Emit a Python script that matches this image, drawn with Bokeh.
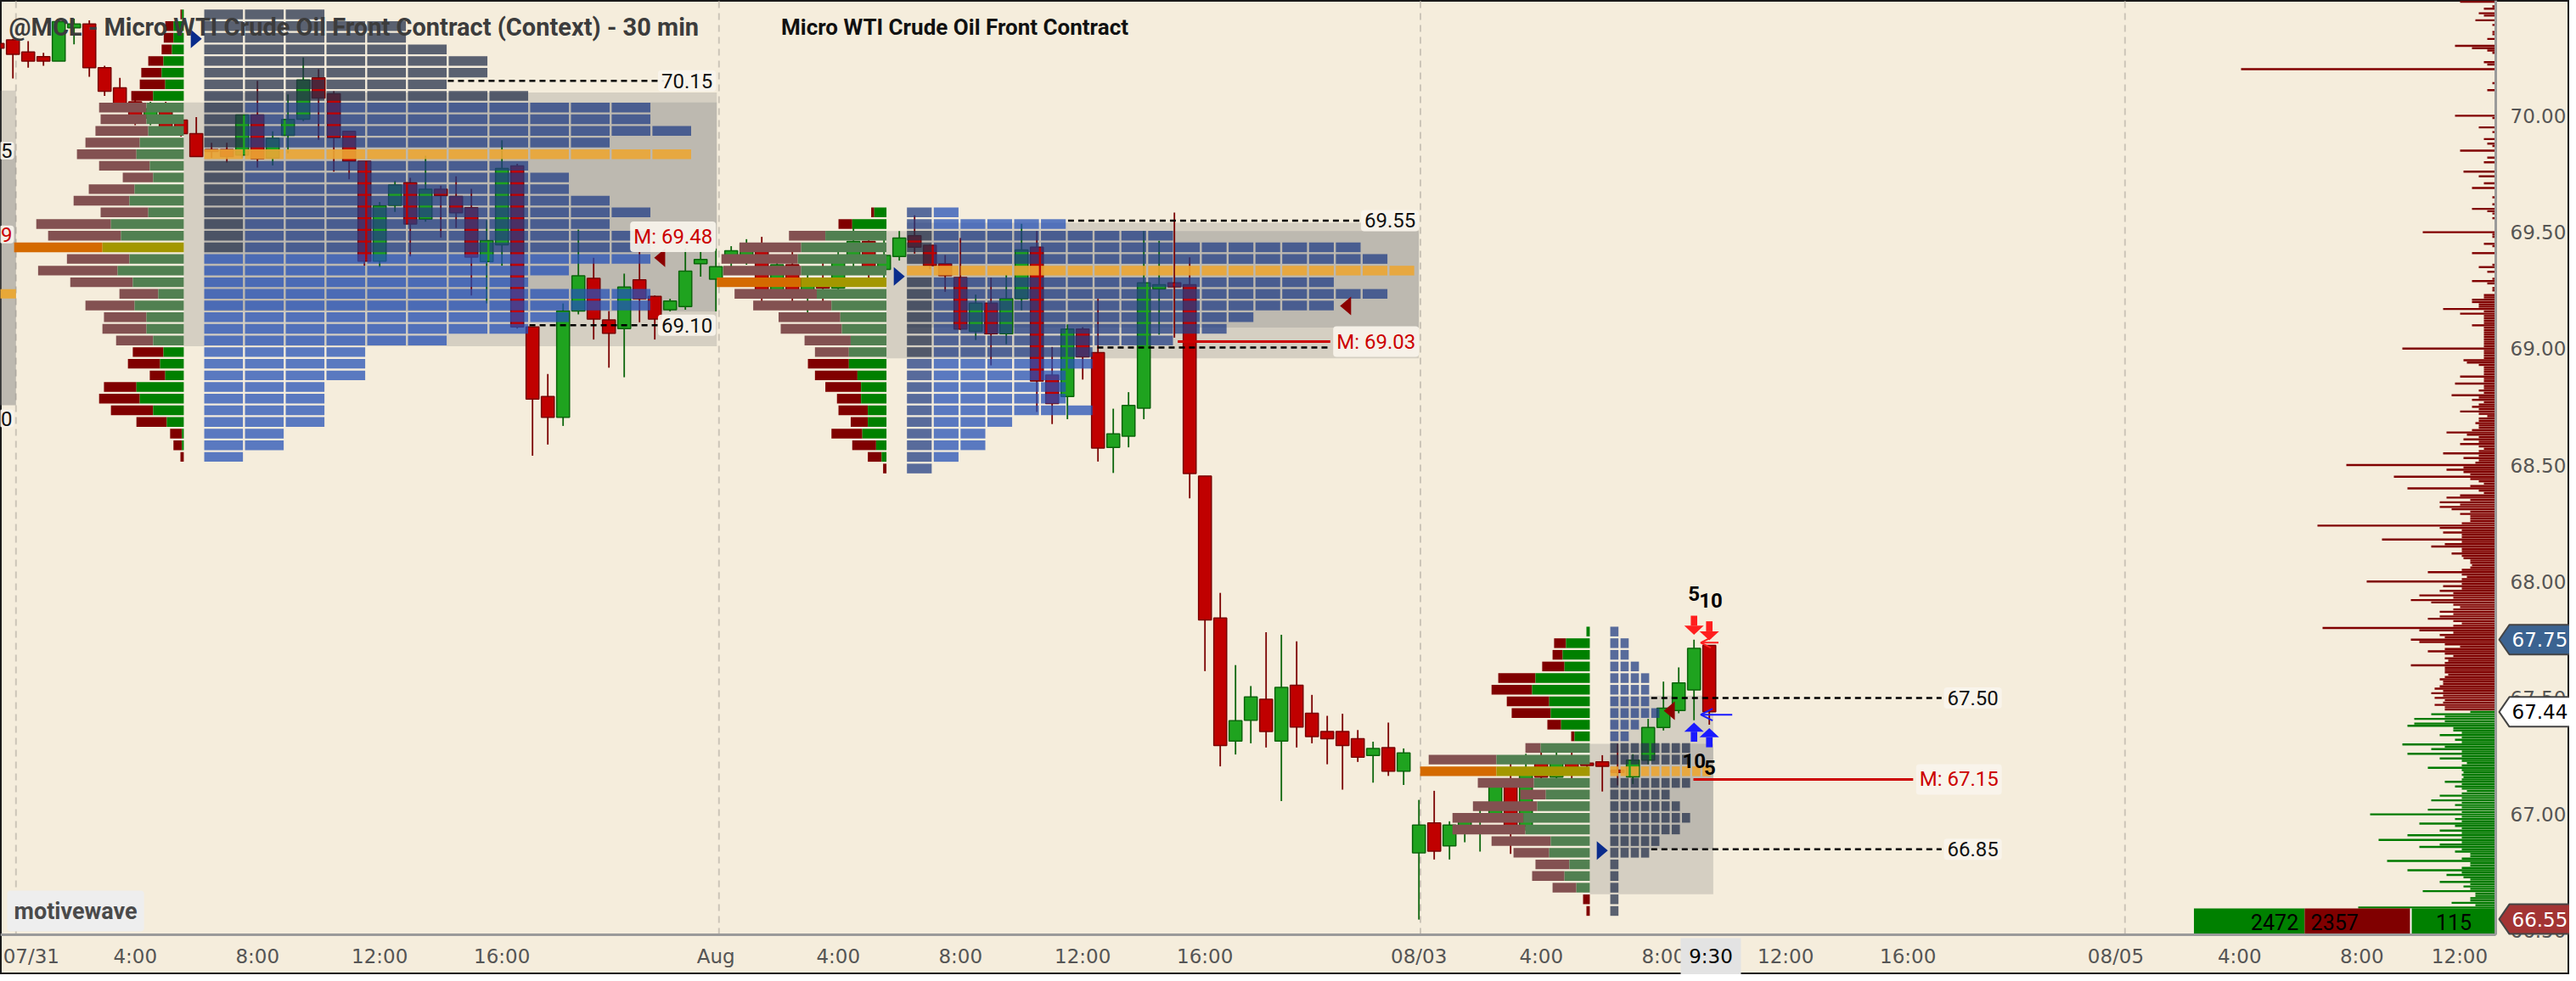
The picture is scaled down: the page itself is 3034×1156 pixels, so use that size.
import numpy as np
from bokeh.plotting import figure
from bokeh.models import ColumnDataSource, Label, Arrow, OpenHead, Range1d
from bokeh.core.properties import value
from bokeh.embed import file_html
from bokeh.resources import INLINE

BG = "#F5EDDC"

# ---------------- axis data (compressed trading hours since 07/31 00:00) ----------------
tick_hours = [0.6, 4, 8, 12, 16, 23, 27, 31, 35, 39, 46, 50, 54, 58, 62, 68.8, 72.85, 76.85, 80.05]
tick_labels = ["07/31", "4:00", "8:00", "12:00", "16:00", "Aug", "4:00", "8:00", "12:00", "16:00",
               "08/03", "4:00", "8:00", "12:00", "16:00", "08/05", "4:00", "8:00", "12:00"]
session_lines = [0.1, 23.1, 46.05, 69.1]
price_ticks = [66.5, 67.0, 67.5, 68.0, 68.5, 69.0, 69.5, 70.0]
current_bar_hour = 55.55
current_bar_label = "9:30"

# ---------------- 30 min candles (bar index k -> hour 0.5*k) ----------------
bar_index = list(range(-1, 112))
opens = [
    70.31, 70.326, 70.274, 70.254, 70.235, 70.378, 70.394, 70.206, 70.12, 70.06,
    69.99, 70.05, 69.981, 69.923, 69.855, 69.855, 69.831, 70.003, 69.818, 69.916,
    69.985, 70.163, 70.094, 69.933, 69.805, 69.376, 69.615, 69.713, 69.556, 69.684,
    69.653, 69.605, 69.374, 69.446, 69.785, 69.093, 68.794, 68.705, 69.161, 69.302,
    69.123, 69.086, 69.295, 69.224, 69.167, 69.181, 69.365, 69.298, 69.38, 69.40,
    69.45, 69.25, 69.36, 69.22, 69.30, 69.26, 69.38, 69.46, 69.34, 69.396,
    69.485, 69.444, 69.365, 69.305, 69.074, 69.195, 69.064, 69.214, 69.436, 68.886,
    68.794, 69.084, 68.983, 68.576, 68.624, 68.744, 69.256, 69.283, 69.274, 68.453,
    67.843, 67.315, 67.404, 67.494, 67.315, 67.554, 67.434, 67.356, 67.356, 67.325,
    67.253, 67.286, 67.185, 66.835, 66.963, 66.865, 66.95, 66.98, 67.0, 67.15,
    66.95, 67.22, 67.16, 67.24, 67.22, 67.225, 67.19, 67.161, 67.233, 67.373,
    67.446, 67.534, 67.726]
highs = [
    70.33, 70.33, 70.32, 70.27, 70.417, 70.417, 70.41, 70.215, 70.163, 70.08,
    70.06, 70.06, 69.994, 69.994, 69.884, 69.884, 70.003, 70.15, 69.933, 70.092,
    70.25, 70.2, 70.105, 69.936, 69.805, 69.63, 69.72, 69.734, 69.828, 69.70,
    69.74, 69.686, 69.552, 69.895, 69.794, 69.093, 68.891, 69.194, 69.511, 69.39,
    69.161, 69.322, 69.444, 69.228, 69.214, 69.43, 69.417, 69.43, 69.44, 69.47,
    69.48, 69.40, 69.42, 69.35, 69.38, 69.42, 69.52, 69.50, 69.49, 69.505,
    69.572, 69.448, 69.402, 69.475, 69.232, 69.305, 69.317, 69.536, 69.505, 69.007,
    69.104, 69.092, 69.214, 68.742, 68.813, 69.505, 69.463, 69.584, 69.392, 68.453,
    67.951, 67.641, 67.551, 67.782, 67.771, 67.743, 67.513, 67.423, 67.432, 67.362,
    67.312, 67.394, 67.283, 67.062, 67.101, 66.97, 67.0, 67.03, 67.14, 67.23,
    67.26, 67.27, 67.27, 67.28, 67.23, 67.254, 67.303, 67.258, 67.41, 67.57,
    67.631, 67.75, 67.726]
lows = [
    70.27, 70.16, 70.206, 70.215, 70.235, 70.307, 70.167, 70.085, 70.02, 69.96,
    69.96, 69.92, 69.91, 69.825, 69.818, 69.799, 69.818, 69.777, 69.786, 69.838,
    69.977, 69.897, 69.76, 69.727, 69.356, 69.35, 69.587, 69.396, 69.545, 69.477,
    69.518, 69.228, 69.194, 69.356, 69.086, 68.54, 68.588, 68.668, 69.147, 69.039,
    68.918, 68.877, 69.113, 69.039, 69.16, 69.167, 69.309, 69.16, 69.35, 69.36,
    69.20, 69.22, 69.18, 69.15, 69.20, 69.24, 69.34, 69.30, 69.30, 69.378,
    69.408, 69.341, 69.244, 69.08, 69.037, 68.928, 69.019, 69.165, 68.728, 68.676,
    68.697, 68.867, 68.515, 68.466, 68.576, 68.697, 69.06, 69.047, 68.357, 67.615,
    67.206, 67.257, 67.305, 67.287, 67.057, 67.287, 67.305, 67.215, 67.106, 67.225,
    67.136, 67.165, 67.126, 66.548, 66.806, 66.806, 66.88, 66.84, 66.98, 66.83,
    66.93, 67.12, 67.14, 67.15, 67.2, 67.098, 67.124, 67.13, 67.215, 67.36,
    67.434, 67.404, 67.385]
closes = [
    70.29, 70.264, 70.235, 70.235, 70.404, 70.394, 70.206, 70.105, 70.046, 69.99,
    70.03, 69.95, 69.923, 69.825, 69.847, 69.825, 70.003, 69.816, 69.903, 69.984,
    70.154, 70.076, 69.906, 69.805, 69.376, 69.613, 69.703, 69.535, 69.684, 69.657,
    69.583, 69.393, 69.464, 69.774, 69.093, 68.783, 68.705, 69.161, 69.313, 69.127,
    69.066, 69.264, 69.214, 69.127, 69.204, 69.333, 69.383, 69.352, 69.42, 69.45,
    69.25, 69.36, 69.22, 69.30, 69.26, 69.38, 69.46, 69.34, 69.40, 69.475,
    69.436, 69.356, 69.314, 69.084, 69.195, 69.064, 69.214, 69.424, 68.861, 68.764,
    69.084, 68.965, 68.573, 68.634, 68.756, 69.283, 69.274, 69.265, 68.464, 67.835,
    67.296, 67.402, 67.504, 67.356, 67.545, 67.375, 67.334, 67.325, 67.296, 67.245,
    67.283, 67.185, 67.264, 66.954, 66.842, 66.954, 66.98, 67.0, 67.12, 66.95,
    67.2, 67.16, 67.22, 67.17, 67.21, 67.206, 67.18, 67.233, 67.373, 67.456,
    67.564, 67.713, 67.44]

# ---------------- daily volume profiles & TPO (rows of 5 ticks) ----------------
d1_top_row = 70.435
d1_total = [11, 61, 66, 73, 117, 140, 145, 173, 279, 274, 291, 324, 352, 279, 201, 313, 363, 274, 486, 447,
            559, 385, 480, 374, 212, 324, 263, 268, 223, 168, 184, 112, 263, 279, 240, 156, 45, 34, 11]
d1_buy = [6, 34, 34, 39, 67, 73, 61, 101, 123, 123, 117, 145, 156, 112, 101, 162, 179, 117, 240, 207,
          268, 179, 218, 168, 84, 162, 123, 123, 101, 67, 78, 61, 156, 145, 101, 56, 6, 6, 0]
d1_tpo = [3, 5, 5, 6, 7, 7, 6, 8, 11, 11, 12, 10, 12, 8, 9, 9, 10, 11, 10, 11,
          11, 11, 9, 8, 11, 11, 9, 8, 6, 4, 4, 4, 3, 3, 3, 3, 2, 2, 1]
d2_top_row = 69.585
d2_total = [50, 157, 319, 481, 540, 534, 555, 497, 436, 353, 346, 268, 234, 257, 234, 200, 162, 157, 117, 180,
            112, 61, 11]
d2_buy = [40, 112, 200, 279, 290, 279, 279, 228, 180, 151, 146, 117, 123, 123, 95, 83, 83, 61, 61, 79,
          34, 16, 0]
d2_tpo = [2, 6, 10, 17, 18, 19, 16, 18, 16, 13, 12, 10, 7, 7, 6, 6, 6, 7, 4, 3, 3, 2, 1]
d3_top_row = 67.785
d3_total = [11, 117, 122, 156, 300, 322, 272, 256, 139, 61, 211, 528, 556, 367, 228, 383, 450, 450, 322, 250,
            178, 189, 122, 22, 11]
d3_buy = [11, 78, 89, 83, 178, 189, 133, 128, 94, 50, 161, 306, 306, 183, 144, 172, 217, 211, 128, 133,
          67, 83, 44, 0, 0]
d3_tpo = [1, 2, 2, 3, 4, 4, 4, 5, 3, 2, 8, 8, 10, 8, 6, 7, 8, 7, 5, 4, 1, 1, 1, 1, 1]

day_start = [0.04, 23.03, 46.04]
day_end = [23.03, 46.0, 55.63]
value_area = [(69.01, 70.057), (68.958, 69.505), (66.657, 67.303)]
tpo_value_area = [(69.16, 70.10), (69.09, 69.54), (66.85, 67.51)]
poc_tpo = [69.835, 69.335, 67.185]

# key levels
levels_dashed = [(70.15, 14.23, 21.3), (69.10, 16.9, 21.3), (69.55, 34.52, 44.1), (69.005, 35.48, 43.06),
                 (67.50, 53.6, 63.1), (66.85, 53.6, 63.1)]
level_labels = [("70.15", 70.15, 23.0), ("69.10", 69.10, 23.0), ("69.55", 69.55, 46.0),
                ("67.50", 67.50, 65.07), ("66.85", 66.85, 65.07)]
mid_levels = [(69.48, 23.0, None), (69.03, 46.0, 38.11), (67.15, 65.07, 54.98)]
blue_marks = [(6.0, 70.33), (29.0, 69.31), (52.0, 66.845)]
red_marks = [(21.16, 69.39), (43.6, 69.183), (54.19, 67.445)]

# signals on the last bars
sig_hours = [55.0, 55.5]
sig_red_top = [67.853, 67.829]
sig_blue_bottom = [67.312, 67.288]
sig_top_texts = [("5", 55.0, 67.948), ("10", 55.55, 67.92)]
sig_bot_texts = [("10", 55.0, 67.23), ("5", 55.52, 67.20)]

# previous session remnants visible at the left edge
prev_box = [(68.757, 70.108), (68.757, 69.85)]
prev_poc = 69.235
prev_labels = [("5", 69.85, "#111111"), ("9", 69.49, "#CC0000"), ("0", 68.70, "#111111")]

# ---------------- right side tick histogram (per 0.01) ----------------
hist_red_top = 70.49
hist_red = [42, 0, 4, 14, 0, 20, 14, 0, 24, 0,
            4, 0, 0, 4, 4, 0, 10, 0, 0, 48,
            28, 10, 4, 0, 0, 0, 14, 10, 0, 300,
            0, 0, 0, 0, 0, 4, 0, 0, 10, 0,
            0, 0, 0, 0, 0, 0, 0, 0, 0, 48,
            4, 0, 0, 0, 20, 0, 4, 0, 0, 14,
            0, 10, 4, 0, 42, 0, 0, 10, 0, 14,
            0, 0, 0, 38, 0, 20, 0, 0, 14, 0,
            28, 0, 0, 0, 4, 0, 0, 4, 0, 28,
            10, 4, 0, 4, 0, 0, 0, 0, 0, 86,
            4, 4, 0, 0, 14, 4, 0, 0, 28, 0,
            0, 0, 0, 4, 20, 0, 10, 0, 0, 4,
            28, 10, 0, 4, 4, 0, 14, 14, 28, 28,
            20, 20, 62, 14, 42, 14, 14, 14, 14, 28,
            14, 14, 14, 14, 14, 14, 14, 14, 14, 110,
            14, 14, 14, 14, 38, 34, 20, 14, 14, 14,
            14, 42, 14, 14, 48, 14, 14, 20, 14, 52,
            20, 28, 14, 20, 28, 20, 42, 20, 10, 20,
            20, 24, 20, 20, 28, 58, 34, 20, 38, 20,
            42, 20, 14, 20, 62, 20, 38, 20, 24, 176,
            38, 58, 38, 30, 120, 30, 20, 14, 30, 104,
            20, 14, 42, 58, 30, 66, 42, 66, 52, 30,
            42, 30, 30, 30, 40, 210, 66, 40, 62, 40,
            40, 134, 40, 60, 76, 40, 40, 52, 40, 38,
            30, 30, 28, 30, 40, 80, 40, 34, 40, 152,
            40, 62, 40, 66, 50, 90, 50, 100, 76, 50,
            42, 50, 66, 50, 66, 80, 50, 40, 50, 204,
            90, 50, 66, 60, 100, 90, 60, 42, 60, 80,
            60, 50, 60, 56, 60, 100, 60, 60, 60, 56,
            60, 66, 62, 62, 66, 72, 62, 76, 62, 72,
            60, 62, 72, 60, 60]
hist_green_top = 67.44
hist_green = [30, 76, 60, 96, 60, 96, 104, 50, 50, 40,
              66, 40, 48, 40, 110, 60, 76, 40, 104, 40,
              66, 40, 34, 40, 80, 40, 38, 40, 38, 40,
              60, 40, 48, 40, 34, 40, 66, 40, 76, 40,
              48, 40, 80, 40, 148, 40, 48, 40, 90, 48,
              40, 66, 40, 104, 40, 138, 40, 66, 90, 40,
              48, 30, 30, 40, 128, 30, 30, 40, 104, 40,
              58, 38, 30, 66, 30, 38, 30, 86, 24, 24,
              30, 30, 52, 24, 162, 20, 20, 20, 20]

# session volume box
vol_buy, vol_sell, vol_delta = 2472, 2357, 115
price_tags = [(67.75, "#3B6391", "white"), (67.44, "white", "black"), (66.55, "#A33434", "white")]

# ---------------- figure geometry ----------------
W, H = 3026, 1148
PXH = 36.0      # px per hour
PXP = 274.4     # px per dollar
X0PX = 14.7     # pixel of hour 0
Y70PX = 135.9   # pixel of price 70.00


def hx(px):
    return (px - X0PX) / PXH


def py(px):
    return 70.0 - (px - Y70PX) / PXP


X0, XR = hx(0), hx(W)
YT, YB = py(0), py(H)
AX_X = hx(2939)      # right price axis line
AX_Y = py(1101)      # bottom time axis line

p = figure(frame_width=W, frame_height=H, x_range=Range1d(X0, XR), y_range=Range1d(YB, YT),
           output_backend="svg", toolbar_location=None, x_axis_location=None, y_axis_location=None,
           min_border=0, background_fill_color=BG, border_fill_color=BG,
           outline_line_color="#1A1A1A", outline_line_width=3)
p.grid.visible = False

# day separators
p.segment(x0=session_lines, x1=session_lines, y0=AX_Y, y1=YT, line_color="#CCC5B8", line_width=2,
          line_dash="8 6")

GRAY = "#808080"
for lo, hi in prev_box:
    p.quad(left=X0 - 1, right=0.1, bottom=lo, top=hi, fill_color=GRAY, fill_alpha=0.28, line_color=None)
p.quad(left=X0 - 1, right=0.1, bottom=prev_poc - 0.02, top=prev_poc + 0.02, fill_color="#E8A838",
       line_color=None)

ROW = 0.05
BAR_H = 0.0416
PROFILE_W = 5.55
GAP_TO_TPO = 0.67
tpo_step = [1.333, 0.877, 0.335]
for i in range(3):
    anchor = day_start[i] + PROFILE_W
    lo, hi = value_area[i]
    p.quad(left=anchor, right=day_end[i], bottom=lo, top=hi, fill_color=GRAY, fill_alpha=0.28, line_color=None)
    lo, hi = tpo_value_area[i]
    p.quad(left=anchor + GAP_TO_TPO, right=day_end[i], bottom=lo, top=hi, fill_color=GRAY, fill_alpha=0.28,
           line_color=None)

# candles
hours = [0.5 * k for k in bar_index]
up = [c >= o for o, c in zip(opens, closes)]
csrc = ColumnDataSource(dict(
    x=hours, o=opens, h=highs, l=lows, c=closes,
    top=[max(o, c) for o, c in zip(opens, closes)],
    bottom=[min(o, c) for o, c in zip(opens, closes)],
    fill=["#1FA31F" if u else "#C00000" for u in up],
    line=["#0B650B" if u else "#7A0000" for u in up],
))
p.segment(x0="x", y0="l", x1="x", y1="h", line_color="line", line_width=1.8, source=csrc)
p.vbar(x="x", width=0.42, top="top", bottom="bottom", fill_color="fill", line_color="line",
       line_width=1.5, source=csrc)

# TPO blocks
SLATE, MID, BLUE = "#26314C", "#233F86", "#2651B7"
tpo_style = [
    dict(above=(SLATE, SLATE), va_up=(MID, SLATE), split=69.40, va_low=(BLUE, BLUE), below=(BLUE, BLUE)),
    dict(above=(BLUE, MID), va_up=(MID, SLATE), split=0.0, va_low=(MID, SLATE), below=(BLUE, MID)),
    dict(above=(MID, MID), va_up=(SLATE, SLATE), split=0.0, va_low=(SLATE, SLATE), below=(SLATE, SLATE)),
]
tops = [d1_top_row, d2_top_row, d3_top_row]
totals = [d1_total, d2_total, d3_total]
buys = [d1_buy, d2_buy, d3_buy]
tpos = [d1_tpo, d2_tpo, d3_tpo]

B = dict(l=[], r=[], b=[], t=[], c=[], a=[])
for i in range(3):
    x_start = day_start[i] + PROFILE_W + GAP_TO_TPO
    step = tpo_step[i]
    w = step - 0.067
    st = tpo_style[i]
    lo, hi = value_area[i]
    for r, n in enumerate(tpos[i]):
        price = round(tops[i] - ROW * r, 3)
        is_poc = abs(price - poc_tpo[i]) < 1e-6
        if price > hi:
            cols = st["above"]
        elif price < lo:
            cols = st["below"]
        elif price >= st["split"]:
            cols = st["va_up"]
        else:
            cols = st["va_low"]
        for j in range(n):
            B["l"].append(x_start + j * step)
            B["r"].append(x_start + j * step + w)
            B["b"].append(price - BAR_H / 2)
            B["t"].append(price + BAR_H / 2)
            if is_poc:
                B["c"].append("#EBA634"); B["a"].append(0.9)
            else:
                B["c"].append(cols[1] if j == 0 else cols[0]); B["a"].append(0.75)
p.quad(left="l", right="r", bottom="b", top="t", fill_color="c", fill_alpha="a", line_color=None,
       source=ColumnDataSource(B))

# volume profiles (sell part left, buy part right, right-aligned at anchor)
P = dict(l=[], r=[], b=[], t=[], c=[])
for i in range(3):
    anchor = day_start[i] + PROFILE_W
    tot = np.array(totals[i], float)
    buy = np.array(buys[i], float)
    sc = PROFILE_W / tot.max()
    poc_row = int(np.argmax(tot))
    lo, hi = value_area[i]
    for r in range(len(tot)):
        price = round(tops[i] - ROW * r, 3)
        if r == poc_row:
            cs, cb = "#D46A00", "#A39700"
        elif lo <= price <= hi:
            cs, cb = "#835151", "#518051"
        else:
            cs, cb = "#800000", "#008000"
        xl = anchor - tot[r] * sc
        xm = anchor - buy[r] * sc
        for a_, b_, col in ((xl, xm, cs), (xm, anchor, cb)):
            if b_ - a_ > 1e-6:
                P["l"].append(a_); P["r"].append(b_)
                P["b"].append(price - BAR_H / 2); P["t"].append(price + BAR_H / 2); P["c"].append(col)
p.quad(left="l", right="r", bottom="b", top="t", fill_color="c", line_color=None, source=ColumnDataSource(P))

# dashed key levels
p.segment(x0=[v[1] for v in levels_dashed], x1=[v[2] for v in levels_dashed],
          y0=[v[0] for v in levels_dashed], y1=[v[0] for v in levels_dashed],
          line_color="black", line_width=2.5, line_dash="7 5")
mx0 = [m[2] for m in mid_levels if m[2] is not None]
mx1 = [m[1] - 2.9 for m in mid_levels if m[2] is not None]
my = [m[0] for m in mid_levels if m[2] is not None]
p.segment(x0=mx0, x1=mx1, y0=my, y1=my, line_color="#CC0000", line_width=3)


def add_label(text, x, y, color, align="right", bg="#F8F4EC", size="24px", bold=False, font="Roboto",
              pad=4, border=None, alpha=0.92):
    lab = Label(x=x, y=y, text=text, text_align=align, text_baseline="middle", text_color=color,
                text_font=font, text_font_size=size, text_font_style="bold" if bold else "normal",
                background_fill_color=bg, background_fill_alpha=alpha if bg else 0.0,
                border_line_color=border, padding=pad, border_radius=4)
    p.add_layout(lab)


for txt, y, x in level_labels:
    add_label(txt, x, y, "#111111")
for m, x, _ in mid_levels:
    add_label("M: %.2f" % m, x, m, "#CC0000")
for txt, y, col in prev_labels:
    add_label(txt, hx(16), y, col, pad=2)

# triangles
DX = 6.5 / PXH
DY = 11.0 / PXP
p.patches(xs=[[x - DX, x + DX, x - DX] for x, y in blue_marks],
          ys=[[y + DY, y, y - DY] for x, y in blue_marks], fill_color="#0A2C8C", line_color=None)
p.patches(xs=[[x + DX, x - DX, x + DX] for x, y in red_marks],
          ys=[[y + DY, y, y - DY] for x, y in red_marks], fill_color="#8B0000", line_color=None)

# signal arrows
SH = 3.8 / PXH
HW = 11.5 / PXH
L_SHAFT = 0.043
L_HEAD = 0.039
for x, t in zip(sig_hours, sig_red_top):
    p.quad(left=x - SH, right=x + SH, top=t, bottom=t - L_SHAFT, fill_color="#FF1E1E", line_color=None)
    p.patches(xs=[[x - HW, x + HW, x]], ys=[[t - L_SHAFT, t - L_SHAFT, t - L_SHAFT - L_HEAD]],
              fill_color="#FF1E1E", line_color=None)
for x, b in zip(sig_hours, sig_blue_bottom):
    p.quad(left=x - SH, right=x + SH, bottom=b, top=b + L_SHAFT, fill_color="#1A1AFF", line_color=None)
    p.patches(xs=[[x - HW, x + HW, x]], ys=[[b + L_SHAFT, b + L_SHAFT, b + L_SHAFT + L_HEAD]],
              fill_color="#1A1AFF", line_color=None)
p.add_layout(Arrow(end=OpenHead(size=14, line_color="#1A1AFF", line_width=2), x_start=56.25, y_start=67.428,
                   x_end=55.22, y_end=67.428, line_color="#1A1AFF", line_width=2))
p.add_layout(Arrow(end=OpenHead(size=12, line_color="#FF1E1E", line_width=2), x_start=55.8, y_start=67.737,
                   x_end=55.22, y_end=67.737, line_color="#FF1E1E", line_width=2))
for txt, x, y in sig_top_texts + sig_bot_texts:
    add_label(txt, x, y, "black", align="center", bg=None, size="24px", bold=True)

# tick histogram (right edge)
HB = 0.0044
hr_p = [round(hist_red_top - 0.01 * i, 2) for i in range(len(hist_red))]
hg_p = [round(hist_green_top - 0.01 * i, 2) for i in range(len(hist_green))]
p.quad(left=[AX_X - v / PXH for v in hist_red], right=AX_X, bottom=[y - HB for y in hr_p],
       top=[y + HB for y in hr_p], fill_color="#800000", line_color=None)
p.quad(left=[AX_X - v / PXH for v in hist_green], right=AX_X, bottom=[y - HB for y in hg_p],
       top=[y + HB for y in hg_p], fill_color="#007A00", line_color=None)

# session volume box
VK = 0.001465
d_left = AX_X - 2.75
s_right = d_left - 0.05
s_left = s_right - vol_sell * VK
b_left = s_left - vol_buy * VK
vb_bot, vb_top = AX_Y, AX_Y + 31 / PXP
p.quad(left=[b_left, s_left, s_right, d_left], right=[s_left, s_right, d_left, AX_X],
       bottom=vb_bot, top=vb_top, fill_color=["#008000", "#800000", "#FFFFFF", "#008000"], line_color=None)
vmid = (vb_bot + vb_top) / 2
add_label(str(vol_buy), s_left - 0.2, vmid, "black", align="right", bg=None, size="25px", pad=0)
add_label(str(vol_sell), s_left + 0.2, vmid, "black", align="left", bg=None, size="25px", pad=0)
add_label(str(vol_delta), (d_left + AX_X) / 2, vmid, "black", align="center", bg=None, size="25px", pad=0)

# ---------------- axes (drawn in the canvas) ----------------
p.segment(x0=[X0, AX_X], x1=[AX_X, AX_X], y0=[AX_Y, AX_Y], y1=[AX_Y, YT], line_color="#9A9A9A", line_width=3)
AXIS_FONT = value("DejaVu Sans")
p.text(x=tick_hours, y=py(1126), text=tick_labels, text_align="center", text_baseline="middle",
       text_font=AXIS_FONT, text_font_size="23px", text_color="#555555")
p.text(x=hx(2956), y=price_ticks, text=["%.2f" % t for t in price_ticks], text_align="left",
       text_baseline="middle", text_font=AXIS_FONT, text_font_size="23px", text_color="#555555")

# current time marker under the time axis
cx = current_bar_hour
p.quad(left=cx - 35.5 / PXH, right=cx + 35.5 / PXH, top=py(1105), bottom=py(1153), fill_color="#E3E3E3",
       line_color=None)
p.text(x=[cx], y=[py(1126)], text=[current_bar_label], text_align="center", text_baseline="middle",
       text_font=AXIS_FONT, text_font_size="23px", text_color="black")

# price tags on the right axis
TIP, BODY = hx(2943), hx(2955)
TH = 17.5 / PXP
for y, bg, fg in price_tags:
    p.patches(xs=[[TIP, BODY, XR + 1, XR + 1, BODY]], ys=[[y, y + TH, y + TH, y - TH, y - TH]],
              fill_color=bg, line_color="#444444", line_width=2)
p.text(x=hx(2958), y=[t[0] for t in price_tags], text=["%.2f" % t[0] for t in price_tags],
       text_color=[t[2] for t in price_tags], text_align="left", text_baseline="middle",
       text_font=AXIS_FONT, text_font_size="23px")

# titles and badge
add_label("@MCL - Micro WTI Crude Oil Front Contract (Context) - 30 min", hx(10), py(31), "#3C3C3C",
          align="left", bg=None, size="29px", bold=True, pad=0)
add_label("Micro WTI Crude Oil Front Contract", hx(1124), py(31), "#111111", align="center", bg=None,
          size="26px", bold=True, pad=0)
add_label("motivewave", hx(8), py(1073), "#4A4A4A", align="left", bg="#EEEEEE", size="27px", bold=True,
          pad=8, alpha=1.0)

open("out.html", "w").write(file_html(p, INLINE))
